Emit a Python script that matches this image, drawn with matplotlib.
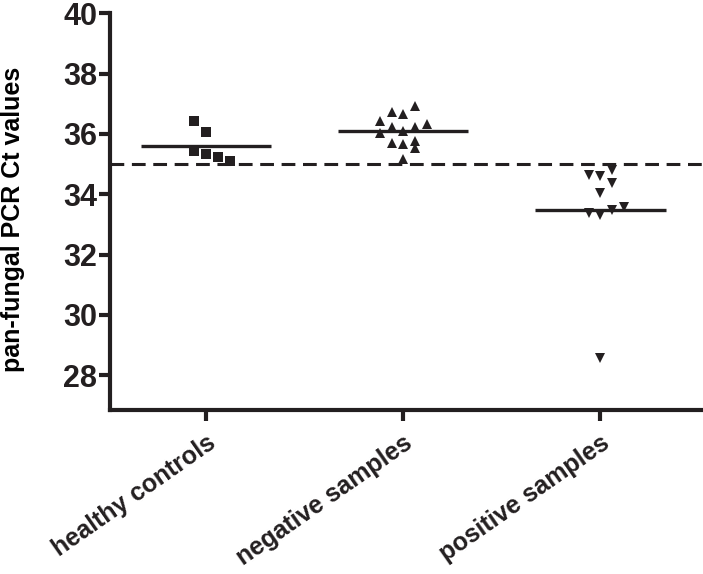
import numpy as np
import matplotlib.pyplot as plt

plt.rcParams['font.family'] = ['Liberation Sans', 'DejaVu Sans']
plt.rcParams['font.weight'] = 'bold'

groups = ['healthy controls', 'negative samples', 'positive samples']
healthy = [36.42, 36.06, 35.43, 35.33, 35.23, 35.10]
negative = [36.92, 36.72, 36.66, 36.42, 36.32, 36.23, 36.23, 36.09, 36.03,
            35.70, 35.66, 35.76, 35.53, 35.17]
positive = [34.80, 34.64, 34.60, 34.37, 34.04, 33.58, 33.48, 33.38, 33.31, 28.58]
cutoff = 35
yticks = [28, 30, 32, 34, 36, 38, 40]

# scatter columns (like GraphPad's column spreading)
healthy_cols = [-1, 0, -1, 0, 1, 2]
negative_cols = [1, -1, 0, -2, 2, -1, 1, 0, -2, -1, 0, 1, 1, 0]
positive_cols = [1, -1, 0, 1, 0, 2, 1, -1, 0, 0]

ink = '#231f20'
spread = 0.06
fig = plt.figure(figsize=(7.03, 5.74), dpi=100)
ax = fig.add_axes([0.156, 0.286, 0.844, 0.691])

data = [healthy, negative, positive]
cols = [healthy_cols, negative_cols, positive_cols]
markers = ['s', '^', 'v']
msizes = [6.5, 7.5, 7.5]
for i, (vals, c, m, ms) in enumerate(zip(data, cols, markers, msizes)):
    x = i + np.array(c) * spread
    ax.plot(x, vals, linestyle='none', marker=m, markersize=ms, color=ink,
            markeredgewidth=0, clip_on=False)
    mean = np.mean(vals)
    ax.plot([i - 0.33, i + 0.33], [mean, mean], color=ink, lw=2.4,
            solid_capstyle='butt')

ax.axhline(cutoff, color=ink, lw=2.2, dashes=(4.5, 2.5), dash_capstyle='butt')

ax.set_xlim(-0.49, 2.52)
ax.set_ylim(26.85, 40)
ax.set_yticks(yticks)
ax.set_xticks(range(len(groups)))
ax.set_xticklabels(groups, rotation=35, ha='right', rotation_mode='anchor')
ax.set_ylabel('pan-fungal PCR Ct values', fontsize=18, fontweight='bold')
ax.yaxis.set_label_coords(-0.142, 0.48)

for s in ['top', 'right']:
    ax.spines[s].set_visible(False)
for s in ['left', 'bottom']:
    ax.spines[s].set_linewidth(3)
    ax.spines[s].set_color(ink)
ax.tick_params(axis='both', width=3, length=8, color=ink, labelsize=22,
               labelcolor=ink)
ax.tick_params(axis='y', pad=1)
ax.tick_params(axis='x', labelsize=18, pad=7)

fig.savefig('out.png', dpi=100)
